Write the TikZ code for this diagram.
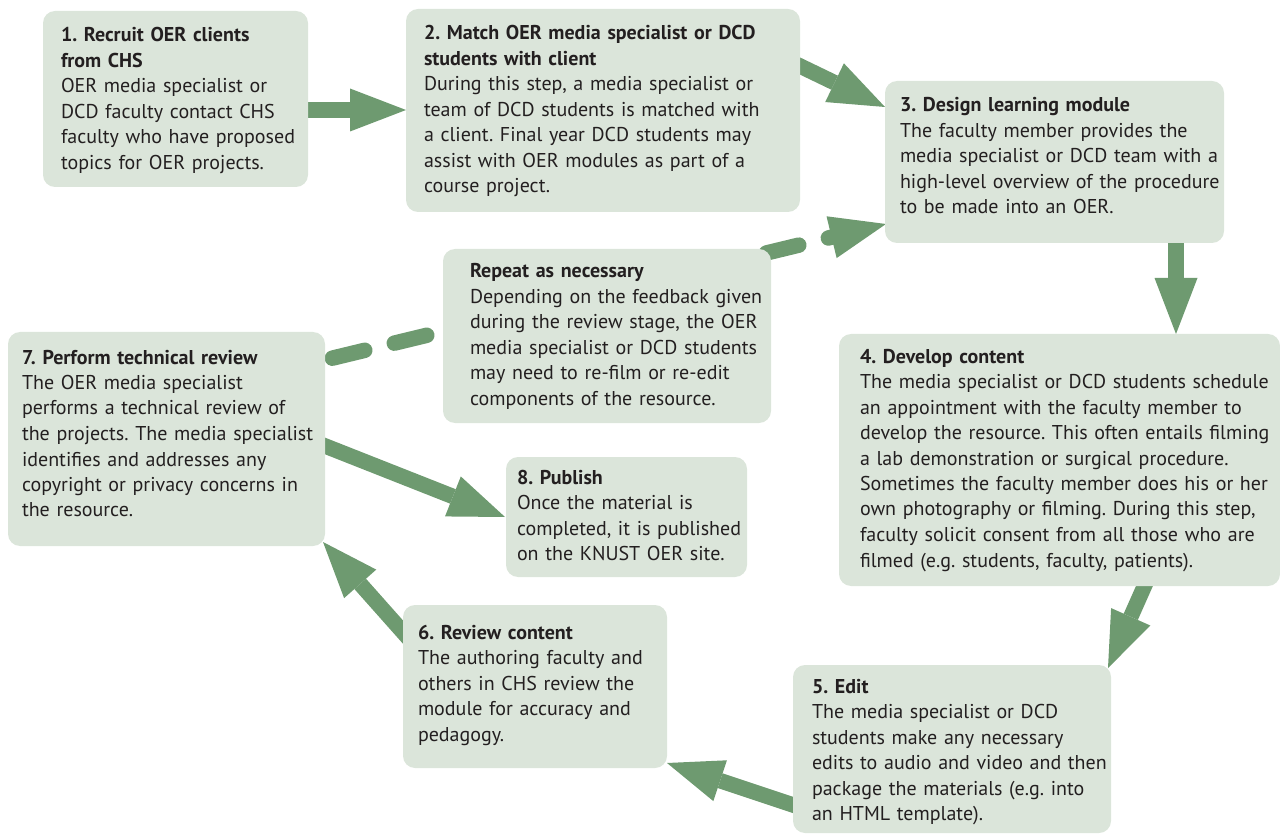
\documentclass[tikz,border=0pt]{standalone}
\usepackage{fontspec}
\setmainfont{PT Sans}
\usetikzlibrary{arrows.meta,calc,backgrounds}
\definecolor{boxfill}{RGB}{219,229,218}
\definecolor{arrowgreen}{RGB}{110,154,112}
\definecolor{ink}{RGB}{35,31,32}
\frenchspacing
\begin{document}
\begin{tikzpicture}[x=1pt,y=-1pt,
  box/.style={fill=boxfill, rounded corners=12pt, inner sep=0pt, outer sep=0pt, anchor=north west, draw=none},
  txt/.style={anchor=base west, inner sep=0pt, outer sep=0pt, align=left, text width=470pt, text=ink, font=\fontsize{20}{25.5}\selectfont\frenchspacing},
  flow/.style={draw=arrowgreen, line width=15.5pt, -{Triangle[length=56pt,width=43pt,line width=0pt]}},
  loopback/.style={flow, line cap=round, dash pattern=on 33.4pt off 30.4pt}]
\useasboundingbox (0,0) rectangle (1280,834);

% boxes
\node[box, minimum width=265, minimum height=176] (b1) at (43,11) {};
\node[box, minimum width=394, minimum height=203] (b2) at (406,9) {};
\node[box, minimum width=339, minimum height=162] (b3) at (885,81) {};
\node[box, minimum width=328, minimum height=174] (br) at (443,249) {};
\node[box, minimum width=317, minimum height=214] (b7) at (8,332) {};
\node[box, minimum width=441, minimum height=252] (b4) at (839,334) {};
\node[box, minimum width=241, minimum height=120] (b8) at (506,457) {};
\node[box, minimum width=264, minimum height=163] (b6) at (403,605) {};
\node[box, minimum width=318, minimum height=168] (b5) at (793,665) {};

% texts
\node[txt] (t1) at ($(b1.north west)+(18,31)$) {{\bfseries 1. Recruit OER clients\\from CHS}\\OER media specialist or\\DCD faculty contact CHS\\faculty who have proposed\\topics for OER projects.};
\node[txt] (t2) at ($(b2.north west)+(18,31)$) {{\bfseries 2. Match OER media specialist or DCD\\students with client}\\During this step, a media specialist or\\team of DCD students is matched with\\a client. Final year DCD students may\\assist with OER modules as part of a\\course project.};
\node[txt] (t3) at ($(b3.north west)+(15,31)$) {{\bfseries 3. Design learning module}\\The faculty member provides the\\media specialist or DCD team with a\\high-level overview of the procedure\\to be made into an OER.};
\node[txt] (tr) at ($(br.north west)+(27,29)$) {{\bfseries Repeat as necessary}\\Depending on the feedback given\\during the review stage, the OER\\media specialist or DCD students\\may need to re-film or re-edit\\components of the resource.};
\node[txt] (t7) at ($(b7.north west)+(14,32)$) {{\bfseries 7. Perform technical review}\\The OER media specialist\\performs a technical review of\\the projects. The media specialist\\identifies and addresses any\\copyright or privacy concerns in\\the resource.};
\node[txt] (t4) at ($(b4.north west)+(21,29)$) {{\bfseries 4. Develop content}\\The media specialist or DCD students schedule\\an appointment with the faculty member to\\develop the resource. This often entails filming\\a lab demonstration or surgical procedure.\\Sometimes the faculty member does his or her\\own photography or filming. During this step,\\faculty solicit consent from all those who are\\filmed (e.g. students, faculty, patients).};
\node[txt] (t8) at ($(b8.north west)+(11,27)$) {{\bfseries 8. Publish}\\Once the material is\\completed, it is published\\on the KNUST OER site.};
\node[txt] (t6) at ($(b6.north west)+(15,34)$) {{\bfseries 6. Review content}\\The authoring faculty and\\others in CHS review the\\module for accuracy and\\pedagogy.};
\node[txt] (t5) at ($(b5.north west)+(19,28)$) {{\bfseries 5. Edit}\\The media specialist or DCD\\students make any necessary\\edits to audio and video and then\\package the materials (e.g. into\\an HTML template).};

% connectors
\begin{scope}[on background layer]
\draw[flow] ($(b1.north east)+(-8,99)$) -- ($(b2.north west)+(0,101)$);
\draw[flow] ($(b2.north east)+(-10,52.2)$) -- ($(b3.north west)+(0,26)$);
\draw[flow] ($(b3.south east)+(-48,-8)$) -- ($(b4.north west)+(337,0)$);
\draw[flow] ($(b4.south west)+(309,-8)$) -- ($(b5.north east)+(-3,3)$);
\draw[flow] ($(b5.north west)+(10,143.3)$) -- ($(b6.south east)+(0,-5)$);
\draw[flow] ($(b6.north west)+(15,44)$) -- ($(b7.south east)+(-2,-4)$);
\draw[flow] ($(b7.north east)+(-10,110)$) -- ($(b8.north west)+(-1,60)$);
\draw[loopback] ($(b7.north east)+(-54.7,41.2)$) -- ($(b3.north west)+(1,143)$);
\end{scope}
\end{tikzpicture}
\end{document}
